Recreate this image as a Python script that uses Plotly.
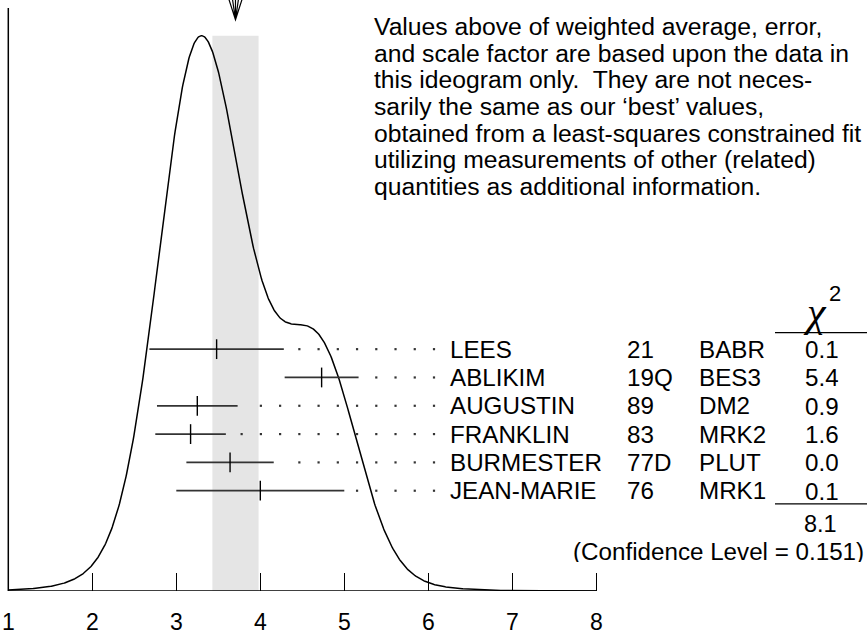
import numpy as np
import plotly.graph_objects as go

# Measurements entering the ideogram
authors = ["LEES", "ABLIKIM", "AUGUSTIN", "FRANKLIN", "BURMESTER", "JEAN-MARIE"]
years = ["21", "19Q", "89", "83", "77D", "76"]
experiments = ["BABR", "BES3", "DM2", "MRK2", "PLUT", "MRK1"]
values = [3.48, 4.73, 3.25, 3.17, 3.64, 4.00]
errors = [0.80, 0.44, 0.48, 0.42, 0.52, 1.00]
chi2 = [0.1, 5.4, 0.9, 1.6, 0.0, 0.1]
confidence_level = 0.151
tick_values = [1, 2, 3, 4, 5, 6, 7, 8]

note_lines = [
    "Values above of weighted average, error,",
    "and scale factor are based upon the data in",
    "this ideogram only.  They are not neces-",
    "sarily the same as our \u2018best\u2019 values,",
    "obtained from a least-squares constrained fit",
    "utilizing measurements of other (related)",
    "quantities as additional information.",
]

# ---- page geometry (pixels) ----
W, H = 867, 635
BOTTOM = 38
PLOT_H = H - BOTTOM
X_AT_1 = 8.3
PX_UNIT = 84.0
PEAK_H = 561.0
FONT = "Liberation Sans, Arial, Helvetica, sans-serif"
FS = 24


def xv(px):
    return 1 + (px - X_AT_1) / PX_UNIT


def yv(px):
    return PLOT_H - px


x_range = [xv(0), xv(W)]

# ---- weighted average, error and scale factor ----
v = np.array(values)
e = np.array(errors)
w = 1.0 / e**2
mean = float(np.sum(w * v) / np.sum(w))
err = float(1.0 / np.sqrt(np.sum(w)))
chi2_total = round(sum(chi2), 1)
scale = float(np.sqrt(chi2_total / (len(values) - 1)))
band_lo, band_hi = mean - err * scale, mean + err * scale

# ---- ideogram: each measurement a Gaussian of area 1/sigma ----
xs = np.linspace(tick_values[0], tick_values[-1], 900)
dens = np.zeros_like(xs)
for mu, sig in zip(v, e):
    dens += (1.0 / sig) * np.exp(-0.5 * ((xs - mu) / sig) ** 2) / (sig * np.sqrt(2 * np.pi))
curve = dens / dens.max() * PEAK_H

fig = go.Figure()

# shaded band for weighted average +- scaled error
fig.add_shape(type="rect", x0=band_lo, x1=band_hi, y0=0, y1=PEAK_H,
              fillcolor="#e5e5e5", line_width=0, layer="below")

fig.add_trace(go.Scatter(x=xs, y=curve, mode="lines",
                         line=dict(color="black", width=1.5), hoverinfo="skip"))

# rows: error bars, centre ticks, dotted leaders
ROW0, ROW_STEP = 352.7, 28.6
row_y = [yv(ROW0 + i * ROW_STEP) for i in range(len(values))]

bx, by = [], []
tx, ty = [], []
dx, dy = [], []
DOT_LAST = xv(434.0)
DOT_STEP = 0.229
GAP = 0.12
for mu, sig, y in zip(v, e, row_y):
    bx += [mu - sig, mu + sig, None]
    by += [y, y, None]
    tx += [mu, mu, None]
    ty += [y - 10, y + 10, None]
    d = DOT_LAST
    while d > mu + sig + GAP:
        dx.append(d)
        dy.append(y)
        d -= DOT_STEP

fig.add_trace(go.Scatter(x=bx, y=by, mode="lines",
                         line=dict(color="#333333", width=1.7), hoverinfo="skip"))
fig.add_trace(go.Scatter(x=tx, y=ty, mode="lines",
                         line=dict(color="black", width=1.4), hoverinfo="skip"))
fig.add_trace(go.Scatter(x=dx, y=dy, mode="markers",
                         marker=dict(color="#333333", size=2.2, symbol="square"),
                         hoverinfo="skip"))

# axes lines
fig.add_shape(type="line", x0=tick_values[0], x1=tick_values[-1], y0=0, y1=0,
              line=dict(color="black", width=1.5))
fig.add_shape(type="line", x0=tick_values[0], x1=tick_values[0], y0=0, y1=yv(8),
              line=dict(color="black", width=1.5))

# arrow marking the weighted average
ah = 7.0 / PX_UNIT
tip = yv(20)
top = yv(-2)
fig.add_shape(type="path",
              path=f"M {mean - ah} {top} L {mean} {tip} L {mean + ah} {top} "
                   f"M {mean} {top} L {mean} {tip} "
                   f"M {mean - ah * 0.45} {top} L {mean} {tip} L {mean + ah * 0.45} {top}",
              line=dict(color="black", width=1.2))

ann = []


def text(px_x, px_y, s, anchor="left", size=FS, family=FONT, height=None):
    a = dict(x=px_x / W, y=(PLOT_H - px_y) / PLOT_H, xref="paper", yref="paper",
             text=s, showarrow=False, xanchor=anchor, yanchor="middle",
             font=dict(family=family, size=size, color="black"))
    if height is not None:
        a["height"] = height
    ann.append(a)


for i, line in enumerate(note_lines):
    text(371.5, 27.2 + i * 26.8, line, size=24.7)

for i in range(len(values)):
    y = ROW0 + i * ROW_STEP
    text(447.5, y, authors[i], size=24.2)
    text(625.0, y, years[i], size=24.2)
    text(697.0, y, experiments[i], size=24.2)
    text(821.5, y, f"{chi2[i]:.1f}", anchor="center", size=24.2, height=24)

text(815.0, 315, "<i>\u03c7</i>", anchor="center", size=42,
     family="Liberation Serif, Times New Roman, serif")
text(835.0, 296, "2", anchor="center", size=22)
fig.add_shape(type="line", xref="paper", x0=775 / W, x1=1, y0=yv(336), y1=yv(336),
              line=dict(color="black", width=1.3))
fig.add_shape(type="line", xref="paper", x0=775 / W, x1=1, y0=yv(509), y1=yv(509),
              line=dict(color="black", width=1.3))
text(820.5, 529, f"{chi2_total:.1f}", anchor="center", size=23.5, height=20)
text(865.5, 557, f"(Confidence Level = {confidence_level})", anchor="right", size=24.2,
     height=22)

fig.update_layout(
    width=W, height=H,
    margin=dict(l=0, r=0, t=0, b=BOTTOM),
    paper_bgcolor="white", plot_bgcolor="white",
    showlegend=False,
    annotations=ann,
    xaxis=dict(range=x_range, tickvals=tick_values, ticktext=[str(t) for t in tick_values],
               ticks="inside", ticklen=18, tickwidth=1.3, tickcolor="black",
               showgrid=False, zeroline=False, showline=False,
               tickfont=dict(family=FONT, size=23, color="black"),
               ticklabelstandoff=15, fixedrange=True),
    yaxis=dict(range=[0, PLOT_H], visible=False, fixedrange=True),
)

fig.write_html("out.html")
